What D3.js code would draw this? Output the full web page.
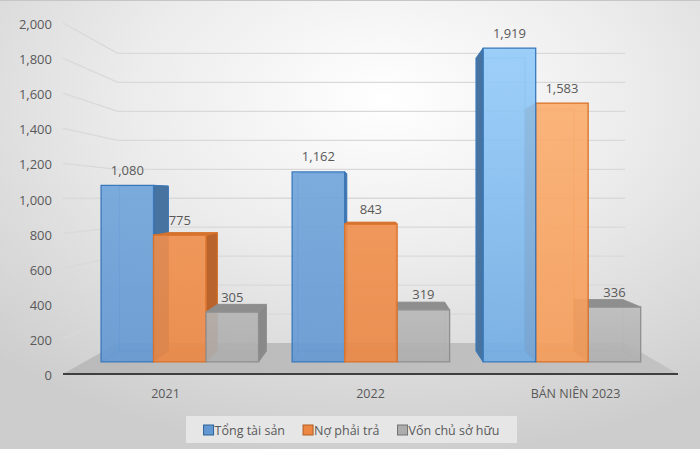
<!DOCTYPE html>
<html><head><meta charset="utf-8">
<script src="https://cdn.jsdelivr.net/npm/d3@7"></script>
<style>
html,body{margin:0;padding:0;background:#fff;}
svg{display:block;font-family:"Open Sans","Noto Sans",sans-serif;}
</style></head>
<body>
<svg id="chart" width="700" height="449"></svg>
<script>
// ---- data ----
const categories = ["2021", "2022", "BÁN NIÊN 2023"];
const seriesNames = ["Tổng tài sản", "Nợ phải trả", "Vốn chủ sở hữu"];
const tongTaiSan = [1080, 1162, 1919];
const noPhaiTra = [775, 843, 1583];
const vonChuSoHuu = [305, 319, 336];
const yTickValues = [0, 200, 400, 600, 800, 1000, 1200, 1400, 1600, 1800, 2000];

const seriesValues = [tongTaiSan, noPhaiTra, vonChuSoHuu];

// ---- styles ----
const palette = {
  frontTop0:   ["#6fa4db", "#f08e4b", "#b4b4b4"],
  frontBot0:   ["#6398d2", "#ec8744", "#adadad"],
  frontTop1:   ["#95cdfa", "#fbad6d", "#bcbcbc"],
  frontBot1:   ["#72ade5", "#f69c58", "#b0b0b0"],
  side:        ["#46739f", "#b8642c", "#898989"],
  top:         ["#5a89bb", "#cf7535", "#8e8e8e"],
  stroke:      ["#3a78bb", "#d9722a", "#8f8f8f"]
};
const textColor = "#595959";

const W = 700, H = 449;
const svg = d3.select("#chart");
const defs = svg.append("defs");

// background
const bg = defs.append("radialGradient").attr("id", "bg")
  .attr("cx", "55%").attr("cy", "22%").attr("r", "80%");
bg.append("stop").attr("offset", "0%").attr("stop-color", "#ffffff");
bg.append("stop").attr("offset", "45%").attr("stop-color", "#ececec");
bg.append("stop").attr("offset", "100%").attr("stop-color", "#cdcdcd");
svg.append("rect").attr("width", W).attr("height", H).attr("fill", "url(#bg)");
svg.append("line").attr("x1", 0).attr("x2", W).attr("y1", 0.5).attr("y2", 0.5)
  .attr("stroke", "#c6c6c6").attr("stroke-width", 1);

// ---- scales (front plane) ----
const x0 = d3.scaleBand().domain(categories).range([63, 678]);
const x1 = d3.scaleBand().domain(seriesNames).range([0, x0.bandwidth()])
  .paddingInner(0).paddingOuter(0.32);
const y = d3.scaleLinear().domain([0, 2000]).range([374, 23]);

// ---- perspective ----
const VP = {x: 376, y: 197};
const k = 0.212;
const sc = z => 1 / (1 + k * z);
function proj(xf, v, z) {
  const s = sc(z);
  return [VP.x + (xf - VP.x) * s, VP.y + (y(v) - VP.y) * s];
}
const zBack = 1, zb0 = 0.344, zb1 = 0.705;
const line = d3.line();
const poly = pts => line(pts) + "Z";

// ---- walls gridlines ----
const xL = x0.range()[0], xR = x0.range()[1];
svg.append("g").selectAll("path").data(yTickValues.filter(v => v > 0)).join("path")
  .attr("d", v => line([proj(xL, v, 0), proj(xL, v, zBack), proj(xR, v, zBack)]))
  .attr("fill", "none").attr("stroke", "#d9d9d9").attr("stroke-width", 1.3);

// ---- floor ----
const floorG = defs.append("linearGradient").attr("id", "floorG")
  .attr("x1", 0).attr("y1", 0).attr("x2", 1).attr("y2", 0);
floorG.append("stop").attr("offset", "0%").attr("stop-color", "#bababa");
floorG.append("stop").attr("offset", "100%").attr("stop-color", "#c2c2c2");
svg.append("path")
  .attr("d", poly([proj(xL, 0, 0), proj(xR, 0, 0), proj(xR, 0, zBack), proj(xL, 0, zBack)]))
  .attr("fill", "url(#floorG)");

// ---- y axis labels ----
svg.append("g").selectAll("text").data(yTickValues).join("text")
  .attr("x", 52).attr("y", v => y(v) + 1)
  .attr("text-anchor", "end").attr("dominant-baseline", "central")
  .attr("font-size", 13).attr("fill", textColor)
  .text(d3.format(","));

// ---- bars ----
const bars = [];
categories.forEach((c, ci) => {
  seriesNames.forEach((s, si) => {
    const xa = x0(c) + x1(s), xb = xa + x1.bandwidth();
    bars.push({c, ci, s, si, v: seriesValues[si][ci], xa, xb, cx: (xa + xb) / 2});
  });
});
bars.sort((a, b) => Math.abs(b.cx - VP.x) - Math.abs(a.cx - VP.x));

const barG = svg.append("g");
bars.forEach((b, i) => {
  const t = Math.max(0, Math.min(1, (b.cx - VP.x) / 150));
  const topC = d3.interpolateRgb(palette.frontTop0[b.si], palette.frontTop1[b.si])(t);
  const botC = d3.interpolateRgb(palette.frontBot0[b.si], palette.frontBot1[b.si])(t);
  const gid = "fg" + i;
  const g = defs.append("linearGradient").attr("id", gid)
    .attr("x1", 0).attr("y1", 0).attr("x2", 0).attr("y2", 1);
  g.append("stop").attr("offset", "0%").attr("stop-color", topC);
  g.append("stop").attr("offset", "100%").attr("stop-color", botC);

  const stroke = palette.stroke[b.si];
  const F = {
    lb: proj(b.xa, 0, zb0), rb: proj(b.xb, 0, zb0), rt: proj(b.xb, b.v, zb0), lt: proj(b.xa, b.v, zb0)
  };
  const B = {
    lb: proj(b.xa, 0, zb1), rb: proj(b.xb, 0, zb1), rt: proj(b.xb, b.v, zb1), lt: proj(b.xa, b.v, zb1)
  };
  const bg_ = barG.append("g");
  // hidden back edges (seen through translucency)
  bg_.append("path").attr("d", poly([B.lb, B.rb, B.rt, B.lt]))
    .attr("fill", "none").attr("stroke", stroke).attr("stroke-opacity", 0.55).attr("stroke-width", 1);
  bg_.append("path").attr("d", line([F.lb, B.lb]) + line([F.rb, B.rb]))
    .attr("fill", "none").attr("stroke", stroke).attr("stroke-opacity", 0.55).attr("stroke-width", 1);
  // side faces
  if (b.xa > VP.x) {
    bg_.append("path").attr("d", poly([F.lb, F.lt, B.lt, B.lb]))
      .attr("fill", palette.side[b.si]).attr("stroke", stroke).attr("stroke-width", 1);
  }
  if (b.xb < VP.x) {
    bg_.append("path").attr("d", poly([F.rb, F.rt, B.rt, B.rb]))
      .attr("fill", palette.side[b.si]).attr("stroke", stroke).attr("stroke-width", 1);
  }
  // top face
  if (y(b.v) > VP.y) {
    bg_.append("path").attr("d", poly([F.lt, F.rt, B.rt, B.lt]))
      .attr("fill", palette.top[b.si]).attr("stroke", stroke).attr("stroke-width", 1);
  }
  // front face
  bg_.append("path").attr("d", poly([F.lb, F.rb, F.rt, F.lt]))
    .attr("fill", "url(#" + gid + ")").attr("fill-opacity", 0.9)
    .attr("stroke", stroke).attr("stroke-width", 1.3);
  b.labelX = (F.lt[0] + F.rt[0]) / 2;
  b.labelY = F.lt[1] - 15.5;
});

// ---- axis line ----
svg.append("line").attr("x1", xL).attr("x2", xR).attr("y1", y(0)).attr("y2", y(0))
  .attr("stroke", "#3f3f3f").attr("stroke-width", 2);

// ---- data labels ----
svg.append("g").selectAll("text").data(bars).join("text")
  .attr("x", d => d.labelX).attr("y", d => d.labelY)
  .attr("text-anchor", "middle").attr("dominant-baseline", "central")
  .attr("font-size", 13).attr("fill", textColor)
  .text(d => d3.format(",")(d.v));

// ---- category labels ----
svg.append("g").selectAll("text").data(categories).join("text")
  .attr("x", c => x0(c) + x0.bandwidth() / 2).attr("y", 393)
  .attr("text-anchor", "middle").attr("dominant-baseline", "central")
  .attr("font-size", 12.5).attr("fill", textColor)
  .text(c => c);

// ---- legend ----
const legend = svg.append("g");
legend.append("rect").attr("x", 186).attr("y", 416).attr("width", 331).attr("height", 27)
  .attr("fill", "#e6e6e6");
const items = legend.selectAll("g.item").data(seriesNames).join("g").attr("class", "item");
items.append("rect").attr("width", 10).attr("height", 10).attr("y", 425)
  .attr("fill", (d, i) => palette.frontBot0[i]).attr("stroke", (d, i) => d3.color(palette.stroke[i]).darker(0.6))
  .attr("stroke-width", 1);
items.append("text").attr("y", 430).attr("dominant-baseline", "central")
  .attr("font-size", 12.5).attr("fill", textColor).text(d => d);
const widths = [];
items.select("text").each(function () { widths.push(this.getComputedTextLength()); });
const gap = 18, sq = 11;
const total = d3.sum(widths) + seriesNames.length * sq + gap * (seriesNames.length - 1);
let cursor = 351.5 - total / 2;
items.each(function (d, i) {
  const it = d3.select(this);
  it.select("rect").attr("x", cursor);
  it.select("text").attr("x", cursor + sq);
  cursor += sq + widths[i] + gap;
});
</script>
</body></html>
